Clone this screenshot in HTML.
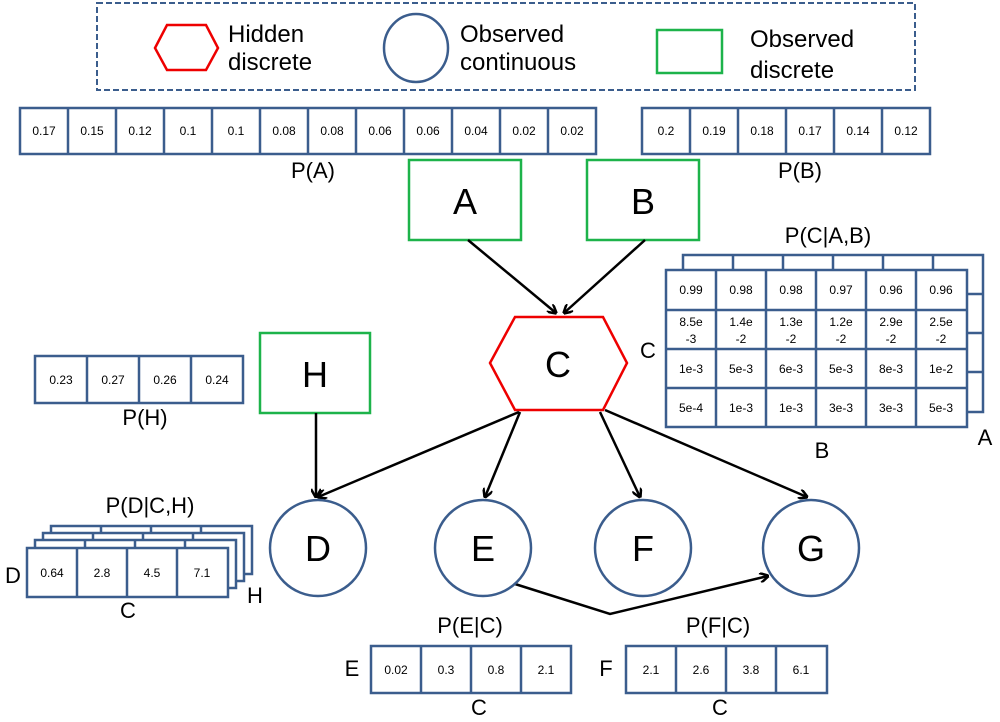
<!DOCTYPE html>
<html><head><meta charset="utf-8"><style>
html,body{margin:0;padding:0;background:#fff;}
svg{display:block;font-family:"Liberation Sans",sans-serif;}
.c{fill:#fff;stroke:#3b5d8d;stroke-width:2.5}
.n{font-size:12px;text-anchor:middle}
.l{font-size:22px;text-anchor:middle}
.big{font-size:36px;text-anchor:middle}
.ar{stroke:#000;stroke-width:2.5;fill:none;marker-end:url(#m)}
</style></head><body>
<svg width="1000" height="722" viewBox="0 0 1000 722">
<defs><marker id="m" markerWidth="10" markerHeight="10" refX="9" refY="5" orient="auto" markerUnits="userSpaceOnUse"><path d="M1,0 L10,5 L1,10" fill="none" stroke="#000" stroke-width="2.5"/></marker></defs>
<!-- legend -->
<rect x="97" y="3" width="818" height="87" fill="none" stroke="#3b5d8d" stroke-width="2" stroke-dasharray="6,3"/>
<polygon points="155,48 167,25 206,25 218,48 206,70 167,70" fill="none" stroke="#e00" stroke-width="2.5"/>
<text x="228" y="42" font-size="24">Hidden</text><text x="228" y="70" font-size="24">discrete</text>
<ellipse cx="416" cy="48" rx="32" ry="34" fill="none" stroke="#3b5d8d" stroke-width="2.5"/>
<text x="460" y="42" font-size="24">Observed</text><text x="460" y="70" font-size="24">continuous</text>
<rect x="657" y="30" width="65" height="43" fill="none" stroke="#1db34a" stroke-width="2.5"/>
<text x="750" y="47" font-size="24">Observed</text><text x="750" y="78" font-size="24">discrete</text>
<!-- P(A) -->
<g>
<rect class="c" x="20" y="108" width="576" height="46"/>
<g stroke="#3b5d8d" stroke-width="2.5"><path d="M68,108v46M116,108v46M164,108v46M212,108v46M260,108v46M308,108v46M356,108v46M404,108v46M452,108v46M500,108v46M548,108v46"/></g>
<g class="n"><text x="44" y="135">0.17</text><text x="92" y="135">0.15</text><text x="140" y="135">0.12</text><text x="188" y="135">0.1</text><text x="236" y="135">0.1</text><text x="284" y="135">0.08</text><text x="332" y="135">0.08</text><text x="380" y="135">0.06</text><text x="428" y="135">0.06</text><text x="476" y="135">0.04</text><text x="524" y="135">0.02</text><text x="572" y="135">0.02</text></g>
<text class="l" x="313" y="178">P(A)</text>
</g>
<!-- P(B) -->
<rect class="c" x="642" y="108" width="288" height="46"/>
<g stroke="#3b5d8d" stroke-width="2.5"><path d="M690,108v46M738,108v46M786,108v46M834,108v46M882,108v46"/></g>
<g class="n"><text x="666" y="135">0.2</text><text x="714" y="135">0.19</text><text x="762" y="135">0.18</text><text x="810" y="135">0.17</text><text x="858" y="135">0.14</text><text x="906" y="135">0.12</text></g>
<text class="l" x="800" y="178">P(B)</text>
<!-- A B H boxes -->
<rect x="409" y="160" width="112" height="80" fill="#fff" stroke="#1db34a" stroke-width="2.5"/><text class="big" x="465" y="214">A</text>
<rect x="587" y="160" width="112" height="80" fill="#fff" stroke="#1db34a" stroke-width="2.5"/><text class="big" x="643" y="214">B</text>
<rect x="260" y="333" width="110" height="80" fill="#fff" stroke="#1db34a" stroke-width="2.5"/><text class="big" x="315" y="387">H</text>
<!-- C hex -->
<polygon points="490,363 515,317 603,317 627,363 603,410 515,410" fill="#fff" stroke="#e00" stroke-width="2.5"/>
<text class="big" x="558" y="377">C</text>
<!-- arrows -->
<path class="ar" d="M468,240 L556,313"/>
<path class="ar" d="M645,240 L564,313"/>
<path class="ar" d="M519,412 L318,497"/>
<path class="ar" d="M520,412 L485,497"/>
<path class="ar" d="M600,412 L640,497"/>
<path class="ar" d="M605,410 L807,497"/>
<path class="ar" d="M316,413 L316,497"/>
<path class="ar" d="M515,584 L610,614 L768,576"/>
<!-- circles -->
<g fill="#fff" stroke="#3b5d8d" stroke-width="2.5">
<circle cx="318" cy="548" r="48"/><circle cx="483" cy="548" r="48"/><circle cx="643" cy="548" r="48"/><circle cx="811" cy="548" r="48"/></g>
<g class="big"><text x="318" y="561">D</text><text x="483" y="561">E</text><text x="643" y="561">F</text><text x="811" y="561">G</text></g>
<!-- P(H) -->
<rect class="c" x="35" y="356" width="208" height="47"/>
<g stroke="#3b5d8d" stroke-width="2.5"><path d="M87,356v47M139,356v47M191,356v47"/></g>
<g class="n"><text x="61" y="384">0.23</text><text x="113" y="384">0.27</text><text x="165" y="384">0.26</text><text x="217" y="384">0.24</text></g>
<text class="l" x="145" y="425">P(H)</text>
<!-- P(C|A,B) -->
<g stroke="#3b5d8d" stroke-width="2.5" fill="#fff">
<rect x="683" y="255" width="300" height="157"/>
<path d="M733,255v15M783,255v15M833,255v15M883,255v15M933,255v15M967,294h16M967,333h16M967,372h16"/>
<rect x="666" y="270" width="301" height="157"/>
<path d="M716,270v157M766,270v157M816,270v157M866,270v157M916,270v157M666,310h301M666,349h301M666,388h301"/>
</g>
<g class="n" font-size="12.5">
<text x="691" y="294">0.99</text><text x="741" y="294">0.98</text><text x="791" y="294">0.98</text><text x="841" y="294">0.97</text><text x="891" y="294">0.96</text><text x="941" y="294">0.96</text>
<text x="691" y="326">8.5e</text><text x="741" y="326">1.4e</text><text x="791" y="326">1.3e</text><text x="841" y="326">1.2e</text><text x="891" y="326">2.9e</text><text x="941" y="326">2.5e</text>
<text x="691" y="343">-3</text><text x="741" y="343">-2</text><text x="791" y="343">-2</text><text x="841" y="343">-2</text><text x="891" y="343">-2</text><text x="941" y="343">-2</text>
<text x="691" y="373">1e-3</text><text x="741" y="373">5e-3</text><text x="791" y="373">6e-3</text><text x="841" y="373">5e-3</text><text x="891" y="373">8e-3</text><text x="941" y="373">1e-2</text>
<text x="691" y="412">5e-4</text><text x="741" y="412">1e-3</text><text x="791" y="412">1e-3</text><text x="841" y="412">3e-3</text><text x="891" y="412">3e-3</text><text x="941" y="412">5e-3</text>
</g>
<text class="l" x="828" y="243">P(C|A,B)</text>
<text class="l" x="648" y="358">C</text>
<text class="l" x="822" y="458">B</text>
<text class="l" x="985" y="445">A</text>
<!-- P(D|C,H) -->
<g stroke="#3b5d8d" stroke-width="2.5" fill="#fff">
<rect x="51" y="526" width="201" height="48"/><path d="M101,526v8M151,526v8M201,526v8"/>
<rect x="43" y="533" width="201" height="48"/><path d="M93,533v8M143,533v8M193,533v8"/>
<rect x="35" y="540" width="201" height="48"/><path d="M85,540v8M135,540v8M185,540v8"/>
<rect x="27" y="548" width="201" height="49"/><path d="M77,548v49M127,548v49M177,548v49"/>
</g>
<g class="n"><text x="52" y="577">0.64</text><text x="102" y="577">2.8</text><text x="152" y="577">4.5</text><text x="202" y="577">7.1</text></g>
<text class="l" x="150" y="513">P(D|C,H)</text>
<text class="l" x="13" y="583">D</text>
<text class="l" x="255" y="603">H</text>
<text class="l" x="128" y="618">C</text>
<!-- P(E|C) -->
<rect class="c" x="371" y="646" width="200" height="47"/>
<g stroke="#3b5d8d" stroke-width="2.5"><path d="M421,646v47M471,646v47M521,646v47"/></g>
<g class="n"><text x="396" y="674">0.02</text><text x="446" y="674">0.3</text><text x="496" y="674">0.8</text><text x="546" y="674">2.1</text></g>
<text class="l" x="470" y="633">P(E|C)</text>
<text class="l" x="352" y="676">E</text>
<text class="l" x="479" y="715">C</text>
<!-- P(F|C) -->
<rect class="c" x="626" y="646" width="201" height="47"/>
<g stroke="#3b5d8d" stroke-width="2.5"><path d="M676,646v47M726,646v47M776,646v47"/></g>
<g class="n"><text x="651" y="674">2.1</text><text x="701" y="674">2.6</text><text x="751" y="674">3.8</text><text x="801" y="674">6.1</text></g>
<text class="l" x="718" y="633">P(F|C)</text>
<text class="l" x="606" y="676">F</text>
<text class="l" x="720" y="715">C</text>
</svg>
</body></html>
